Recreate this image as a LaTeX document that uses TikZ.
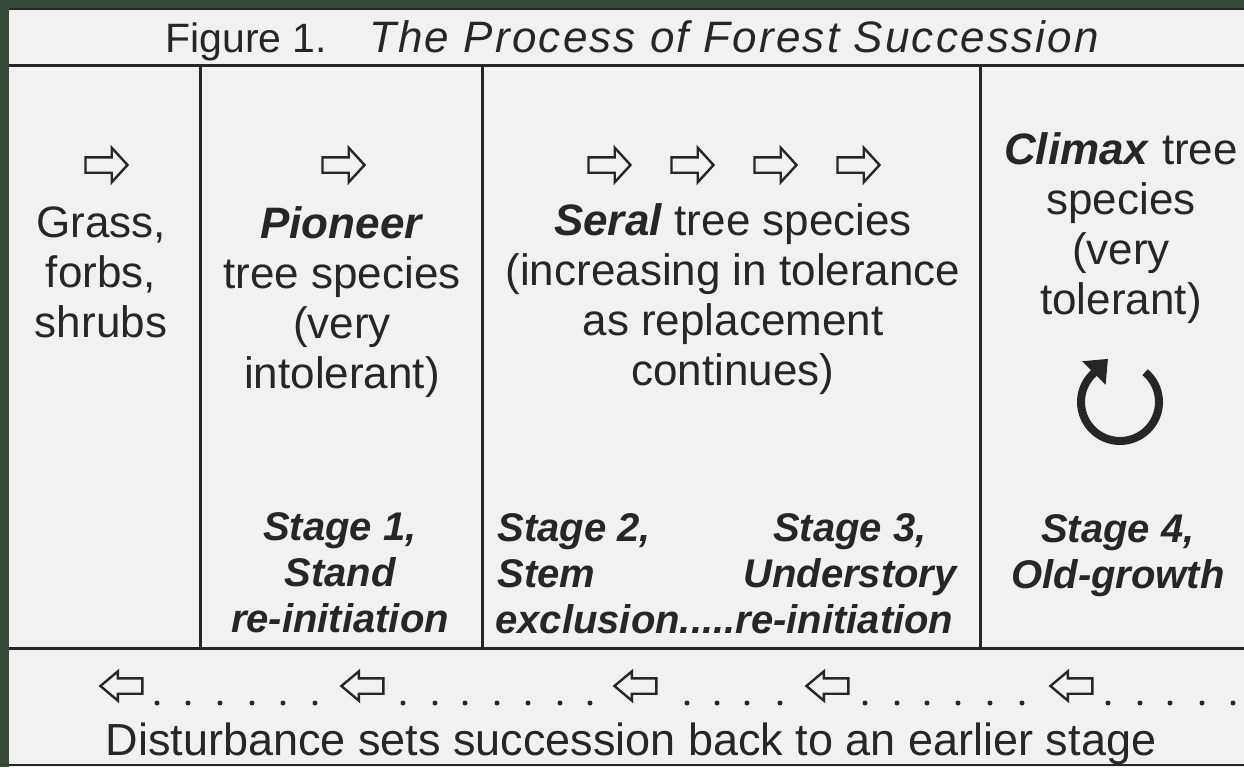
\documentclass[tikz,border=0pt]{standalone}
\usepackage{fontspec}
\setmainfont{Liberation Sans}
\usetikzlibrary{arrows.meta, shapes.arrows, positioning}
\definecolor{paper}{RGB}{241,241,239}
\definecolor{frame}{RGB}{56,74,58}
\definecolor{ink}{RGB}{38,38,38}

\begin{document}
\begin{tikzpicture}[x=0.5pt, y=-0.5pt,
  ruling/.style={draw=ink, line width=1.5pt},
  body/.style={text=ink, align=center, anchor=base, inner sep=0pt, font=\fontsize{22}{25}\selectfont},
  stage/.style={text=ink, align=center, anchor=base, inner sep=0pt, font=\fontsize{20}{23}\selectfont\bfseries\itshape},
  fwd/.style={single arrow, draw=ink, line width=1.2pt, minimum height=21pt, inner xsep=0pt, inner ysep=3.25pt, single arrow head extend=4.75pt, single arrow tip angle=95},
  back/.style={fwd, shape border rotate=180, single arrow head extend=3.5pt, single arrow tip angle=80},
  dot/.style={circle, fill=ink, inner sep=0pt, minimum size=2.5pt}]

    % Paper and frame
    \fill[frame] (0,0) rectangle (1244,767);
    \fill[paper] (9,8) rectangle (1244,767);
    \useasboundingbox (0,0) rectangle (1244,767);

    % Table rules
    \draw[ruling, line width=1pt] (9,9) -- (1244,9);
    \draw[ruling] (9,65) -- (1244,65);
    \draw[ruling] (9,648) -- (1244,648);
    \draw[ruling] (200,65) -- (200,648);
    \draw[ruling] (482,65) -- (482,648);
    \draw[ruling] (980,65) -- (980,648);
    \draw[ruling, line width=1pt] (9,765) -- (1244,765);

    % Title
    \node[body, font=\fontsize{20.5}{24}\selectfont] (title) at (632,52) {Figure 1.\hspace{21pt}{\fontsize{22}{24}\selectfont\itshape\addfontfeature{LetterSpace=5}The Process of Forest Succession}};

    % Forward arrows
    \node[fwd] (a0) at (103,165) {};
    \node[fwd] (a1) at (340,165) {};
    \foreach \x [count=\i from 2] in {606,689,772,855}
        \node[fwd] (a\i) at (\x,165) {};

    % Species columns (base = last line)
    \node[body] (grass) at (101,337) {Grass,\\forbs,\\shrubs};
    \node[body] (pioneer) at (342,388) {\textbf{\textit{Pioneer}}\\tree species\\(very\\intolerant)};
    \node[body] (seral) at (733,385) {\textbf{\textit{Seral}} tree species\\(increasing in tolerance\\as replacement\\continues)};
    \node[body] (climax) at (1121,314) {\textbf{\textit{Climax}} tree\\species\\(very\\tolerant)};

    % Self-replacing climax
    \draw[ink, line width=4pt, -{Triangle[length=10pt,width=16pt]}] (1120,402) ++(50:19.5pt) arc[start angle=50, end angle=-225, radius=19.5pt] -- ++(45:11pt);

    % Stages
    \node[stage] (s1) at (340,632) {Stage 1,\\Stand\\re-initiation};
    \node[stage, anchor=base west, align=left] (s2) at (497,587) {Stage 2,\\Stem};
    \node[stage] (s3) at (850,587) {Stage 3,\\Understory};
    \node[stage, anchor=base west] (s23) at (495,633) {exclusion.....re-initiation};
    \node[stage] (s4) at (1118,588) {Stage 4,\\Old-growth};

    % Disturbance row
    \foreach \x [count=\i] in {126,367,640,832,1076}
        \node[back] (b\i) at (\x,686) {};
    \foreach \x in {157,188,220,252,283,315,403,435,465,497,528,560,590,687,717,747,780,865,897,927,958,990,1022,1108,1140,1170,1202,1233}
        \node[dot] (d\x) at (\x,703) {};
    \node[body, font=\fontsize{22.5}{26}\selectfont] (dist) at (631,755) {Disturbance sets succession back to an earlier stage};
\end{tikzpicture}
\end{document}
